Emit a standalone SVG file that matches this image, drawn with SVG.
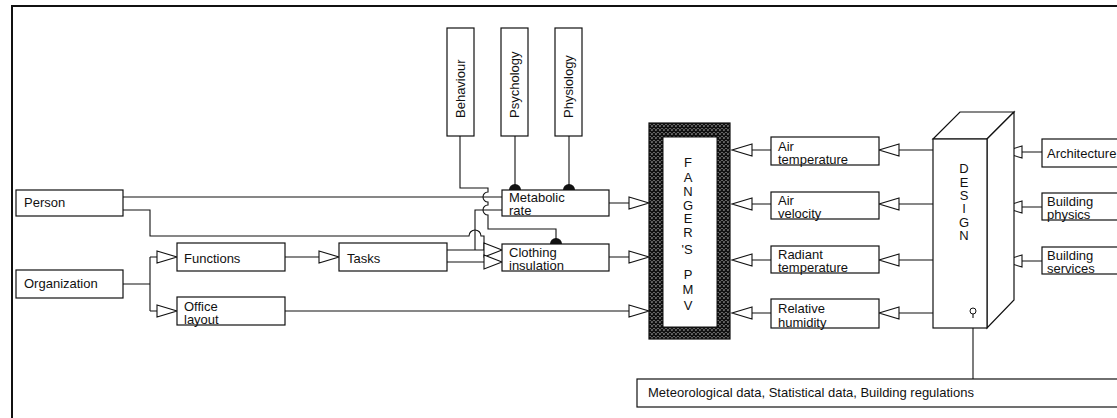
<svg xmlns="http://www.w3.org/2000/svg" width="1117" height="418" viewBox="0 0 1117 418">
<defs>
<style>
.b{fill:#fff;stroke:#111;stroke-width:1.2}
.l{fill:none;stroke:#111;stroke-width:1.1}
.a{fill:#fff;stroke:#111;stroke-width:1.1}
.t{font-family:"Liberation Sans",Arial,sans-serif;font-size:13px;fill:#111}
.c{font-family:"Liberation Sans",Arial,sans-serif;font-size:13px;fill:#111;text-anchor:middle}
</style>
<pattern id="hatch" width="4" height="4" patternUnits="userSpaceOnUse">
<rect width="4" height="4" fill="#fff"/>
<path d="M0 0L4 4M4 0L0 4" stroke="#111" stroke-width="1.6"/>
</pattern>
</defs>
<rect width="1117" height="418" fill="#fff"/>
<path d="M12 418V6H1117" fill="none" stroke="#111" stroke-width="2"/>

<g id="connectors">
<path class="l" d="M460 136V188H488V192A5 5 0 0 0 488 202V205A5 5 0 0 0 488 215V229H556V244"/>
<path class="l" d="M515 136V190M569 136V190"/>
<path class="l" d="M123 197H502"/>
<path class="l" d="M123 210H150V236H469A6 6 0 0 1 481 236H484V250"/>
<path class="l" d="M447 250H484M475 250V210H502"/>
<path class="l" d="M447 262H484"/>
<path class="l" d="M123 284H150M150 257V311M150 257H157M150 311H157"/>
<path class="l" d="M285 257H319"/>
<path class="l" d="M285 311H629"/>
<path class="l" d="M609 203H629M609 257H629"/>
<path class="l" d="M752 150H771M752 204H771M752 260H771M752 313H771"/>
<path class="l" d="M899 150H933M899 204H933M899 260H933M899 313H933"/>
<path class="l" d="M1022 152H1042M1022 207H1042M1022 261H1042"/>
<path class="l" d="M973 328V380"/>
<path class="a" d="M157 251L177 257L157 263Z"/>
<path class="a" d="M157 305L177 311L157 317Z"/>
<path class="a" d="M319 251L339 257L319 263Z"/>
<path class="a" d="M484 243L502 250L484 257Z"/>
<path class="a" d="M484 255L502 262L484 269Z"/>
<path class="a" d="M629 197L649 203L629 209Z"/>
<path class="a" d="M629 251L649 257L629 263Z"/>
<path class="a" d="M629 305L649 311L629 317Z"/>
<path class="a" d="M752 144L732 150L752 156Z"/>
<path class="a" d="M752 198L732 204L752 210Z"/>
<path class="a" d="M752 254L732 260L752 266Z"/>
<path class="a" d="M752 307L732 313L752 319Z"/>
<path class="a" d="M899 144L879 150L899 156Z"/>
<path class="a" d="M899 198L879 204L899 210Z"/>
<path class="a" d="M899 254L879 260L899 266Z"/>
<path class="a" d="M899 307L879 313L899 319Z"/>
<path class="a" d="M1022 146L1002 152L1022 158Z"/>
<path class="a" d="M1022 201L1002 207L1022 213Z"/>
<path class="a" d="M1022 255L1002 261L1022 267Z"/>
<path d="M509 190A6 6 0 0 1 521 190Z" fill="#111"/>
<path d="M563 190A6 6 0 0 1 575 190Z" fill="#111"/>
<path d="M550 244A6 6 0 0 1 562 244Z" fill="#111"/>
</g>

<g id="behaviour"><rect class="b" x="447" y="28" width="27" height="108"/><text class="t" transform="translate(465 118) rotate(-90)">Behaviour</text></g>
<g id="psychology"><rect class="b" x="501" y="28" width="27" height="108"/><text class="t" transform="translate(519 118) rotate(-90)">Psychology</text></g>
<g id="physiology"><rect class="b" x="555" y="28" width="27" height="108"/><text class="t" transform="translate(573 118) rotate(-90)">Physiology</text></g>

<g id="person"><rect class="b" x="16" y="190" width="107" height="26"/><text class="t" x="24" y="207">Person</text></g>
<g id="organization"><rect class="b" x="16" y="270" width="107" height="28"/><text class="t" x="24" y="288">Organization</text></g>
<g id="functions"><rect class="b" x="177" y="243" width="108" height="28"/><text class="t" x="184" y="263">Functions</text></g>
<g id="tasks"><rect class="b" x="339" y="243" width="108" height="28"/><text class="t" x="347" y="263">Tasks</text></g>
<g id="office-layout"><rect class="b" x="177" y="297" width="108" height="28"/><text class="t" x="184" y="311">Office</text><text class="t" x="184" y="324">layout</text></g>

<g id="metabolic-rate"><rect class="b" x="502" y="190" width="107" height="26"/><text class="t" x="509" y="202">Metabolic</text><text class="t" x="509" y="215">rate</text></g>
<g id="clothing-insulation"><rect class="b" x="502" y="244" width="107" height="27"/><text class="t" x="509" y="257">Clothing</text><text class="t" x="509" y="270">insulation</text></g>

<g id="fanger-pmv">
<rect x="649" y="123" width="81" height="216" fill="url(#hatch)" stroke="#111" stroke-width="1.2"/>
<rect x="663" y="137" width="54" height="190" fill="#fff" stroke="#111" stroke-width="1"/>
<text class="c" x="688" y="167">F</text>
<text class="c" x="688" y="182">A</text>
<text class="c" x="688" y="196">N</text>
<text class="c" x="688" y="210">G</text>
<text class="c" x="688" y="223">E</text>
<text class="c" x="688" y="237">R</text>
<text class="c" x="687" y="254">'S</text>
<text class="c" x="688" y="279">P</text>
<text class="c" x="688" y="294">M</text>
<text class="c" x="688" y="310">V</text>
</g>

<g id="air-temperature"><rect class="b" x="771" y="137" width="108" height="28"/><text class="t" x="778" y="151">Air</text><text class="t" x="778" y="164">temperature</text></g>
<g id="air-velocity"><rect class="b" x="771" y="192" width="108" height="27"/><text class="t" x="778" y="205">Air</text><text class="t" x="778" y="218">velocity</text></g>
<g id="radiant-temperature"><rect class="b" x="771" y="246" width="108" height="27"/><text class="t" x="778" y="259">Radiant</text><text class="t" x="778" y="272">temperature</text></g>
<g id="relative-humidity"><rect class="b" x="771" y="299" width="108" height="29"/><text class="t" x="778" y="313">Relative</text><text class="t" x="778" y="327">humidity</text></g>

<g id="design">
<path class="b" d="M933 139L960 112H1014L987 139Z"/>
<path class="b" d="M987 139L1014 112V300L987 328Z"/>
<rect class="b" x="933" y="139" width="54" height="189"/>
<text class="c" x="964" y="173">D</text>
<text class="c" x="964" y="187">E</text>
<text class="c" x="964" y="200">S</text>
<text class="c" x="964" y="213">I</text>
<text class="c" x="964" y="227">G</text>
<text class="c" x="964" y="240">N</text>
<circle cx="973" cy="311" r="3" fill="none" stroke="#111" stroke-width="1"/>
<path class="l" d="M973 314V318"/>
</g>

<g id="architecture"><rect class="b" x="1042" y="139" width="80" height="28"/><text class="t" x="1047" y="158">Architecture</text></g>
<g id="building-physics"><rect class="b" x="1042" y="193" width="80" height="27"/><text class="t" x="1047" y="206">Building</text><text class="t" x="1047" y="219">physics</text></g>
<g id="building-services"><rect class="b" x="1042" y="247" width="80" height="27"/><text class="t" x="1047" y="260">Building</text><text class="t" x="1047" y="273">services</text></g>

<g id="meteorological"><rect class="b" x="637" y="379" width="490" height="28"/><text class="t" x="648" y="397">Meteorological data, Statistical data, Building regulations</text></g>
</svg>
